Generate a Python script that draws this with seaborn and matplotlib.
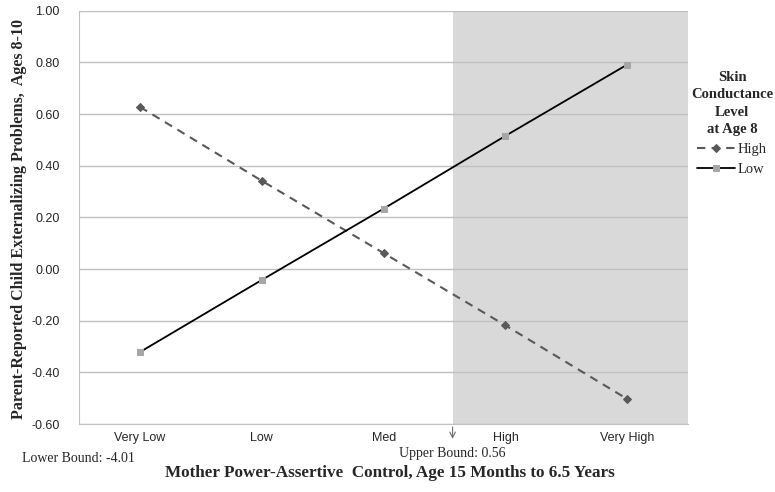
import matplotlib
matplotlib.use("Agg")
import matplotlib.pyplot as plt
import seaborn as sns
import pandas as pd

# data
categories = ["Very Low", "Low", "Med", "High", "Very High"]
high_sc = [0.628, 0.342, 0.062, -0.218, -0.503]
low_sc = [-0.321, -0.042, 0.234, 0.516, 0.792]
region_start = 2.566   # x position (category units) of the upper bound 0.56
y_ticks = [-0.6, -0.4, -0.2, 0.0, 0.2, 0.4, 0.6, 0.8, 1.0]

df = pd.DataFrame({
    "control": categories * 2,
    "problems": high_sc + low_sc,
    "level": ["High"] * 5 + ["Low"] * 5,
})

sns.set_style("white")
fig = plt.figure(figsize=(7.75, 4.92), dpi=100)
ax = fig.add_axes([0.102, 0.138, 0.786, 0.84])

serif = "Liberation Serif"
sans = "Liberation Sans"

# shaded region of significance
ax.axvspan(region_start, 4.5, color="#d9d9d9", zorder=0, lw=0)

sns.lineplot(data=df[df.level == "High"], x="control", y="problems",
             color="#595959", linestyle=(0, (4, 3)), lw=1.5,
             marker="D", markersize=4, markeredgecolor="#595959",
             ax=ax, label="High", zorder=3)
sns.lineplot(data=df[df.level == "Low"], x="control", y="problems",
             color="black", lw=1.3, marker="s", markersize=5,
             markerfacecolor="#a6a6a6", markeredgecolor="#a6a6a6",
             ax=ax, label="Low", zorder=3)

ax.set_xlim(-0.5, 4.5)
ax.set_ylim(-0.6, 1.0)
ax.set_yticks(y_ticks)
ax.set_yticklabels([f"{v:.2f}" for v in y_ticks], fontfamily=sans, fontsize=9)
ax.set_xticks(range(len(categories)))
ax.set_xticklabels(categories, fontfamily=sans, fontsize=9)
ax.yaxis.grid(True, color="#c0c0c0", lw=1, zorder=1)
ax.xaxis.grid(False)
ax.set_axisbelow(True)
for side in ["top", "right"]:
    ax.spines[side].set_visible(False)
for side in ["left", "bottom"]:
    ax.spines[side].set_color("#c0c0c0")
ax.tick_params(axis="y", length=4, color="#c0c0c0", pad=10)
ax.tick_params(axis="x", length=0, pad=6)
ax.set_xlabel("")
ax.set_ylabel("")

# axis titles
fig.text(0.025, 0.555, "Parent-Reported Child Externalizing Problems,  Ages 8-10",
         rotation=90, ha="center", va="center",
         fontfamily=serif, fontweight="bold", fontsize=11.5)
fig.text(0.503, 0.039, "Mother Power-Assertive  Control, Age 15 Months to 6.5 Years",
         ha="center", va="center",
         fontfamily=serif, fontweight="bold", fontsize=12.3)

# bound annotations
ax.annotate("", xy=(region_start, -0.668), xytext=(region_start, -0.6),
            xycoords="data", textcoords="data", annotation_clip=False,
            arrowprops=dict(arrowstyle="->", color="#707070", lw=0.8))
ax.text(region_start, -0.712, "Upper Bound: 0.56", ha="center", va="center",
        fontfamily=serif, fontsize=10, clip_on=False)
fig.text(0.028, 0.069, "Lower Bound: -4.01", ha="left", va="center",
         fontfamily=serif, fontsize=10)

leg = ax.legend(title="Skin\nConductance\nLevel\nat Age 8", loc="upper center",
                bbox_to_anchor=(1.072, 0.88), frameon=False, handlelength=2.6,
                handletextpad=0.2, borderaxespad=0.3, labelspacing=0.45,
                prop={"family": serif, "size": 10.5})
leg.get_title().set_fontfamily(serif)
leg.get_title().set_fontweight("bold")
leg.get_title().set_fontsize(10.5)
leg.get_title().set_multialignment("center")
leg.get_title().set_linespacing(1.45)

fig.savefig("out.png", dpi=100)
